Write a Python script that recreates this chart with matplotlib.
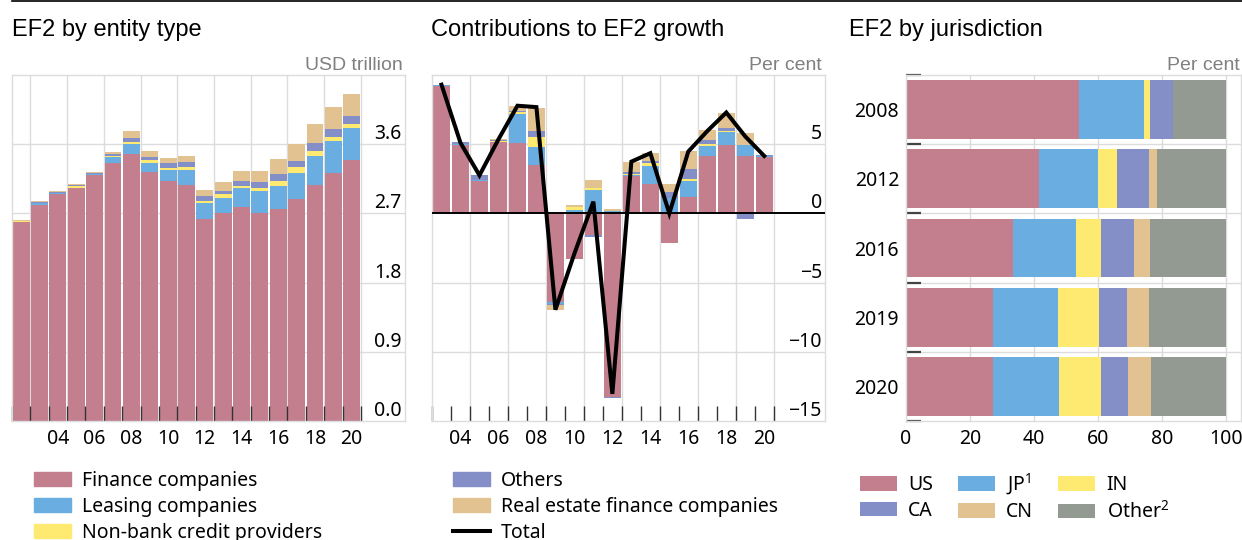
import numpy as np
import matplotlib.pyplot as plt
from matplotlib.lines import Line2D
from matplotlib.patches import Patch

plt.rcParams['font.family'] = ['Noto Sans', 'DejaVu Sans']
plt.rcParams['font.size'] = 14
plt.rcParams['mathtext.fontset'] = 'custom'
plt.rcParams['mathtext.rm'] = 'Noto Sans'

# EF2 by entity type, USD trillion, 2002-2020
years = np.arange(2002, 2021)
finance = [2.583, 2.810, 2.955, 3.030, 3.193, 3.358, 3.475, 3.241, 3.124, 3.072,
           2.622, 2.709, 2.778, 2.709, 2.752, 2.890, 3.072, 3.228, 3.397]
leasing = [0.000, 0.024, 0.015, 0.005, 0.015, 0.082, 0.130, 0.117, 0.143, 0.195,
           0.208, 0.194, 0.247, 0.285, 0.307, 0.338, 0.377, 0.415, 0.415]
nonbank = [0.020, 0.005, 0.000, 0.015, 0.000, 0.008, 0.025, 0.039, 0.026, 0.039,
           0.035, 0.052, 0.034, 0.039, 0.065, 0.069, 0.065, 0.052, 0.052]
others = [0.000, 0.010, 0.010, 0.015, 0.015, 0.030, 0.052, 0.039, 0.056, 0.056,
          0.056, 0.039, 0.065, 0.078, 0.091, 0.087, 0.103, 0.109, 0.104]
realestate = [0.005, 0.010, 0.010, 0.012, 0.015, 0.026, 0.091, 0.078, 0.074, 0.087,
              0.086, 0.117, 0.130, 0.143, 0.195, 0.220, 0.247, 0.281, 0.286]

# Contributions to EF2 growth, per cent, 2003-2020
g_years = np.arange(2003, 2021)
g_finance = [9.18, 4.95, 2.34, 5.14, 5.07, 3.50, -6.40, -3.26, -1.57, -13.24,
             2.73, 2.15, -2.13, 1.18, 4.18, 4.95, 4.18, 4.06]
g_leasing = [0.07, 0.05, 0.07, 0.00, 2.13, 1.30, -0.12, 0.24, 1.69, 0.15,
             0.03, 1.30, 1.11, 1.16, 0.72, 0.94, 0.77, 0.10]
g_nonbank = [0.00, 0.03, 0.00, 0.10, 0.10, 0.72, 0.00, 0.19, 0.12, 0.00,
             0.12, 0.19, 0.00, 0.15, 0.12, 0.07, 0.00, 0.00]
g_others = [0.05, 0.12, 0.36, 0.07, 0.12, 0.43, -0.07, -0.07, -0.10, -0.07,
            0.12, 0.15, 0.43, 0.72, 0.29, 0.24, -0.41, 0.07]
g_realestate = [0.00, 0.00, 0.00, 0.07, 0.36, 1.69, -0.41, 0.17, 0.60, 0.17,
                0.72, 0.58, 0.60, 1.30, 0.72, 1.09, 0.87, 0.00]
g_total = [9.30, 5.10, 2.75, 5.35, 7.78, 7.68, -6.96, -2.90, 0.85, -13.04,
           3.74, 4.35, 0.00, 4.47, 5.95, 7.29, 5.56, 4.15]

# EF2 by jurisdiction, per cent of total
j_years = ['2008', '2012', '2016', '2019', '2020']
j_us = [54.2, 41.5, 33.4, 27.1, 27.1]
j_jp = [20.1, 18.4, 19.6, 20.3, 20.6]
j_in = [1.9, 6.2, 8.1, 12.8, 13.1]
j_ca = [7.2, 10.0, 10.3, 9.0, 8.7]
j_cn = [0.0, 2.2, 5.0, 6.9, 7.2]
j_other = [16.6, 21.7, 23.6, 23.9, 23.3]
j_labels = ['US', 'JP$^{1}$', 'IN', 'CA', 'CN', 'Other$^{2}$']

c_pink = '#C37F8E'
c_blue = '#6AADE0'
c_yellow = '#FEEA70'
c_purple = '#838FC6'
c_tan = '#E2C291'
c_grey = '#939A92'
c_grid = '#DCDCDC'
c_tick = '#333333'

W, H = 1242, 540
fig = plt.figure(figsize=(W / 100, H / 100), dpi=100)


def px_axes(x0, x1, y0=75, y1=421):
    return fig.add_axes([x0 / W, 1 - y1 / H, (x1 - x0) / W, (y1 - y0) / H])


def frame(ax):
    for sp in ax.spines.values():
        sp.set_color(c_grid)
        sp.set_linewidth(1)


def inner_labels(ax, values, labels):
    for v, lab in zip(values, labels):
        ax.annotate(lab, xy=(0.992, v), xycoords=('axes fraction', 'data'),
                    xytext=(0, 3.6), textcoords='offset points',
                    ha='right', va='baseline', fontsize=14)


# ---- left: levels by entity type
ax1 = px_axes(12, 405)
series = [finance, leasing, nonbank, others, realestate]
colors = [c_pink, c_blue, c_yellow, c_purple, c_tan]
bottom = np.zeros(len(years))
for vals, col in zip(series, colors):
    ax1.bar(years, vals, bottom=bottom, width=0.92, color=col, zorder=1)
    bottom += np.array(vals)
ax1.set_xlim(2001.5, 2022.9)
ax1.set_ylim(0, 4.5)
for y in [0.9, 1.8, 2.7, 3.6]:
    ax1.axhline(y, color=c_grid, lw=1, zorder=0)
for x in np.arange(2002.5, 2021, 2):
    ax1.axvline(x, color=c_grid, lw=1, zorder=0)
ax1.set_yticks([])
ax1.set_xticks(np.arange(2004, 2021, 2))
ax1.set_xticklabels(['%02d' % (y % 100) for y in range(2004, 2021, 2)])
ax1.set_xticks(np.arange(2001.5, 2021, 1), minor=True)
ax1.tick_params(axis='x', which='major', length=0, pad=6, labelsize=14)
ax1.tick_params(axis='x', which='minor', direction='in', length=10.5,
                width=1, color=c_tick)
inner_labels(ax1, [0, 0.9, 1.8, 2.7, 3.6], ['0.0', '0.9', '1.8', '2.7', '3.6'])
frame(ax1)

# ---- middle: growth contributions
ax2 = px_axes(432, 825)
g_series = [g_finance, g_leasing, g_nonbank, g_others, g_realestate]
pos = np.zeros(len(g_years))
neg = np.zeros(len(g_years))
for vals, col in zip(g_series, colors):
    v = np.array(vals)
    b = np.where(v >= 0, pos, neg)
    ax2.bar(g_years, v, bottom=b, width=0.88, color=col, zorder=1)
    pos += np.where(v >= 0, v, 0)
    neg += np.where(v < 0, v, 0)
ax2.axhline(0, color='black', lw=1.4, zorder=3)
ax2.plot(g_years, g_total, color='black', lw=2.9, zorder=4,
         solid_joinstyle='miter')
ax2.set_xlim(2002.5, 2023.2)
ax2.set_ylim(-15, 10)
for y in [-10, -5, 5]:
    ax2.axhline(y, color=c_grid, lw=1, zorder=0)
for x in np.arange(2004.5, 2021, 2):
    ax2.axvline(x, color=c_grid, lw=1, zorder=0)
ax2.set_yticks([])
ax2.set_xticks(np.arange(2004, 2021, 2))
ax2.set_xticklabels(['%02d' % (y % 100) for y in range(2004, 2021, 2)])
ax2.set_xticks(np.arange(2002.5, 2021, 1), minor=True)
ax2.tick_params(axis='x', which='major', length=0, pad=6, labelsize=14)
ax2.tick_params(axis='x', which='minor', direction='in', length=10.5,
                width=1, color=c_tick)
inner_labels(ax2, [-15, -10, -5, 0, 5], ['\u221215', '\u221210', '\u22125', '0', '5'])
frame(ax2)

# ---- right: shares by jurisdiction
ax3 = px_axes(906, 1241)
j_series = [j_us, j_jp, j_in, j_ca, j_cn, j_other]
j_colors = [c_pink, c_blue, c_yellow, c_purple, c_tan, c_grey]
ypos = np.arange(len(j_years))
left = np.zeros(len(j_years))
j_handles = []
for vals, col in zip(j_series, j_colors):
    j_handles.append(ax3.barh(ypos, vals, left=left, height=0.85, color=col, zorder=1))
    left += np.array(vals)
ax3.set_xlim(0, 104.7)
ax3.set_ylim(4.5, -0.5)
for x in [20, 40, 60, 80, 100]:
    ax3.axvline(x, color=c_grid, lw=1, zorder=0)
for y in np.arange(0.5, 4.0, 1):
    ax3.axhline(y, color=c_grid, lw=1, zorder=0)
ax3.set_xticks([0, 20, 40, 60, 80, 100])
ax3.set_yticks(ypos)
ax3.set_yticklabels(j_years)
ax3.set_yticks(np.arange(-0.5, 4.6, 1), minor=True)
ax3.tick_params(axis='x', which='major', length=0, pad=6, labelsize=14)
ax3.tick_params(axis='y', which='major', length=0, pad=5, labelsize=14)
ax3.tick_params(axis='y', which='minor', direction='in', length=10.5,
                width=1.6, color='#444444')
frame(ax3)

# ---- titles and units
title_kw = dict(fontsize=17, family=['Liberation Sans', 'DejaVu Sans'], va='baseline')
fig.text(12 / W, 1 - 36 / H, 'EF2 by entity type', **title_kw)
fig.text(431 / W, 1 - 36 / H, 'Contributions to EF2 growth', **title_kw)
fig.text(849 / W, 1 - 36 / H, 'EF2 by jurisdiction', **title_kw)
unit_kw = dict(fontsize=14, family=['Liberation Sans', 'DejaVu Sans'],
               color='#808080', ha='right', va='baseline')
fig.text(403 / W, 1 - 70 / H, 'USD trillion', **unit_kw)
fig.text(822 / W, 1 - 70 / H, 'Per cent', **unit_kw)
fig.text(1240 / W, 1 - 70 / H, 'Per cent', **unit_kw)

fig.add_artist(Line2D([12 / W, 1], [1 - 0.8 / H] * 2, color='black', lw=1.2))

# ---- legends
leg_kw = dict(loc='upper left', frameon=False, borderpad=0, borderaxespad=0,
              handlelength=1.9, handleheight=0.77, handletextpad=0.57,
              labelspacing=0.3, fontsize=14)
fig.legend([Patch(color=c) for c in colors[:3]],
           ['Finance companies', 'Leasing companies', 'Non-bank credit providers'],
           bbox_to_anchor=(34 / W, 1 - 471 / H), **leg_kw)
fig.legend([Patch(color=c_purple), Patch(color=c_tan),
            Line2D([], [], color='black', lw=2.9)],
           ['Others', 'Real estate finance companies', 'Total'],
           bbox_to_anchor=(453 / W, 1 - 471 / H), **leg_kw)
# legend fills column by column; order so rows read US, JP, IN / CA, CN, Other
order = [0, 3, 1, 4, 2, 5]
fig.legend([j_handles[i] for i in order], [j_labels[i] for i in order], ncol=3,
           columnspacing=1.3, bbox_to_anchor=(860 / W, 1 - 471 / H), **leg_kw)

fig.savefig('out.png', dpi=100)
